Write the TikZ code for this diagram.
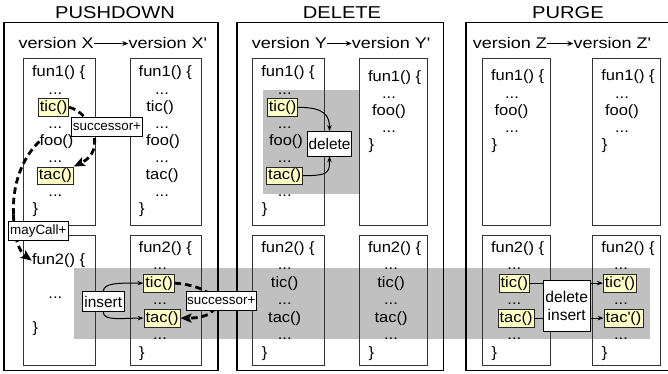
\documentclass[tikz,border=0pt]{standalone}
\usepackage{fontspec}
\setmainfont{Liberation Sans}[FakeStretch=1.17]
\newfontfamily\codefont{Liberation Sans}[FakeStretch=1.1]
\newfontfamily\labelfont{Liberation Sans}
\usetikzlibrary{arrows.meta,calc}
\definecolor{hlyellow}{RGB}{255,255,200}
\definecolor{bandgray}{RGB}{192,192,192}
\newcommand\qs{\textquotesingle}
\begin{document}
\begin{tikzpicture}[x=1pt,y=-1pt,
  panel/.style={draw=black, line width=1.6pt},
  fbox/.style={draw=black!80, line width=0.9pt},
  code/.style={font=\codefont\fontsize{15}{17}\selectfont, inner sep=0pt, anchor=base},
  codel/.style={code, anchor=base west},
  hl/.style={code, fill=hlyellow, draw=black!85, line width=0.8pt, inner xsep=1.5pt, inner ysep=1.8pt},
  title/.style={font=\fontsize{17.2}{20}\selectfont, anchor=base, inner sep=0pt},
  ver/.style={font=\fontsize{15.4}{18}\selectfont, anchor=base west, inner sep=0pt},
  lbl/.style={draw=black, fill=white, line width=0.8pt, inner sep=0pt, align=center},
  small/.style={font=\labelfont\fontsize{13.4}{16}\selectfont},
  mid/.style={font=\labelfont\fontsize{15.4}{18.3}\selectfont},
  dasharrow/.style={line width=2.8pt, dash pattern=on 6.5pt off 4pt, -{Stealth[length=11pt,width=9pt,inset=2pt]}},
  thinarrow/.style={line width=1pt, -{Stealth[length=6pt,width=4.5pt]}},
  verarrow/.style={line width=0.9pt, -{Stealth[length=6pt,width=5pt]}},
]
\useasboundingbox (0,0) rectangle (668,374);

% shaded regions
\fill[bandgray] (74,268.3) rectangle (650,339);
\fill[bandgray] (262.7,90) rectangle (359.3,194);

% panels
\draw[panel] (4,22.7) rectangle (218,370.5);
\draw[panel] (236.7,22.7) rectangle (443.3,370.5);
\draw[panel] (465.7,22.7) rectangle (669.5,370.5);

% titles
\node[title] (tPush) at (115,19) {PUSHDOWN};
\node[title] (tDel) at (342,19) {DELETE};
\node[title] (tPurge) at (568,19) {PURGE};

% version headers
\node[ver] (vX) at (18.3,49) {version X};
\node[ver] (vXp) at (128.3,49) {version X\qs};
\node[ver] (vY) at (251.7,49) {version Y};
\node[ver] (vYp) at (351.7,49) {version Y\qs};
\node[ver] (vZ) at (472.7,49) {version Z};
\node[ver] (vZp) at (573.3,49) {version Z\qs};
\draw[verarrow] (vX.east) -- (vXp.west);
\draw[verarrow] (vY.east) -- (vYp.west);
\draw[verarrow] (vZ.east) -- (vZp.west);

% function boxes
\draw[fbox] (23.3,58.3) rectangle (95,225.7);
\draw[fbox] (130,58.3) rectangle (201.7,225.7);
\draw[fbox] (23.3,235.7) rectangle (95,365);
\draw[fbox] (130,235.7) rectangle (201.7,365);
\draw[fbox] (252.7,58.3) rectangle (324.3,225.7);
\draw[fbox] (359.3,58.3) rectangle (427.3,225.7);
\draw[fbox] (252.7,235.7) rectangle (324.3,365);
\draw[fbox] (359.3,235.7) rectangle (427.3,365);
\draw[fbox] (482.3,58.3) rectangle (550,225.7);
\draw[fbox] (592.7,58.3) rectangle (660.7,225.7);
\draw[fbox] (482.3,235.7) rectangle (550,365);
\draw[fbox] (592.7,235.7) rectangle (660.7,365);

% ---- version X, fun1
\node[codel] (xFun) at (31.8,77) {fun1() \{};
\node[code] (xD1) at (55.3,94.1) {...};
\node[hl] (xTic) at (53.5,111.2) {tic()};
\node[code] (xD2) at (55.3,128.3) {...};
\node[code] (xFoo) at (56.5,145.4) {foo()};
\node[code] (xD3) at (55.3,162.5) {...};
\node[hl] (xTac) at (55.3,179.6) {tac()};
\node[code] (xD4) at (55.3,196.7) {...};
\node[codel] (xEnd) at (32.3,213.8) {\}};
% ---- version X', fun1
\node[codel] (xpFun) at (138.5,77) {fun1() \{};
\node[code] (xpD1) at (162,94.1) {...};
\node[code] (xpTic) at (160,111.2) {tic()};
\node[code] (xpD2) at (162,128.3) {...};
\node[code] (xpFoo) at (163,145.4) {foo()};
\node[code] (xpD3) at (162,162.5) {...};
\node[code] (xpTac) at (162,179.6) {tac()};
\node[code] (xpD4) at (162,196.7) {...};
\node[codel] (xpEnd) at (139,213.8) {\}};
% ---- version X, fun2
\node[codel] (xbFun) at (31.8,264.5) {fun2() \{};
\node[code] (xbD) at (55.3,298) {...};
\node[codel] (xbEnd) at (32.3,332) {\}};
% ---- version X', fun2
\node[codel] (xpbFun) at (138.5,252) {fun2() \{};
\node[code] (xpbD1) at (160,269.5) {...};
\node[hl] (xpbTic) at (159,287) {tic()};
\node[code] (xpbD2) at (160,304.5) {...};
\node[hl] (xpbTac) at (162,322) {tac()};
\node[code] (xpbD3) at (160,339.5) {...};
\node[codel] (xpbEnd) at (139,357) {\}};

% ---- version Y, fun1
\node[codel] (yFun) at (261.2,77) {fun1() \{};
\node[code] (yD1) at (284.7,94.1) {...};
\node[hl] (yTic) at (282.5,111.2) {tic()};
\node[code] (yD2) at (284.7,128.3) {...};
\node[code] (yFoo) at (286,145.4) {foo()};
\node[code] (yD3) at (284.7,162.5) {...};
\node[hl] (yTac) at (284.7,179.6) {tac()};
\node[code] (yD4) at (284.7,196.7) {...};
\node[codel] (yEnd) at (261.7,213.8) {\}};
% ---- version Y', fun1
\node[codel] (ypFun) at (367.8,82) {fun1() \{};
\node[code] (ypD1) at (389,98.6) {...};
\node[code] (ypFoo) at (389,115.4) {foo()};
\node[code] (ypD2) at (389,132.6) {...};
\node[codel] (ypEnd) at (368.3,149.8) {\}};
% ---- version Y, fun2
\node[codel] (ybFun) at (261.2,252) {fun2() \{};
\node[code] (ybD1) at (284.7,269.5) {...};
\node[code] (ybTic) at (284.7,287) {tic()};
\node[code] (ybD2) at (284.7,304.5) {...};
\node[code] (ybTac) at (284.7,322) {tac()};
\node[code] (ybD3) at (284.7,339.5) {...};
\node[codel] (ybEnd) at (261.7,357) {\}};
% ---- version Y', fun2
\node[codel] (ypbFun) at (367.8,252) {fun2() \{};
\node[code] (ypbD1) at (391,269.5) {...};
\node[code] (ypbTic) at (391,287) {tic()};
\node[code] (ypbD2) at (391,304.5) {...};
\node[code] (ypbTac) at (391,322) {tac()};
\node[code] (ypbD3) at (391,339.5) {...};
\node[codel] (ypbEnd) at (368.3,357) {\}};

% ---- version Z, fun1
\node[codel] (zFun) at (490.8,81) {fun1() \{};
\node[code] (zD1) at (512,98.2) {...};
\node[code] (zFoo) at (511.5,115.4) {foo()};
\node[code] (zD2) at (512,132.6) {...};
\node[codel] (zEnd) at (491.3,149.8) {\}};
% ---- version Z', fun1
\node[codel] (zpFun) at (601.2,81) {fun1() \{};
\node[code] (zpD1) at (622,98.2) {...};
\node[code] (zpFoo) at (622,115.4) {foo()};
\node[code] (zpD2) at (622,132.6) {...};
\node[codel] (zpEnd) at (601.7,149.8) {\}};
% ---- version Z, fun2
\node[codel] (zbFun) at (490.8,252) {fun2() \{};
\node[code] (zbD1) at (514.3,269.5) {...};
\node[hl] (zbTic) at (514.3,287) {tic()};
\node[code] (zbD2) at (514.3,304.5) {...};
\node[hl] (zbTac) at (516,322) {tac()};
\node[code] (zbD3) at (514.3,339.5) {...};
\node[codel] (zbEnd) at (491.3,357) {\}};
% ---- version Z', fun2
\node[codel] (zpbFun) at (601.2,252) {fun2() \{};
\node[code] (zpbD1) at (621,269.5) {...};
\node[hl] (zpbTic) at (620,287) {tic\qs()};
\node[code] (zpbD2) at (621,304.5) {...};
\node[hl] (zpbTac) at (623.5,322) {tac\qs()};
\node[code] (zpbD3) at (621,339.5) {...};
\node[codel] (zpbEnd) at (601.7,357) {\}};

% ---- connectors
\coordinate (mcPt) at (13.5,215);
\draw[dasharrow] (xTic.east) .. controls (90,112) and (108,150) .. (xTac.north east);
\draw[line width=2.8pt, dash pattern=on 6.5pt off 4pt] (xFoo.west) .. controls (22,158) and (12,185) .. (mcPt);
\draw[dasharrow] (mcPt) .. controls (14,240) and (20,252) .. (xbFun.west);
\draw[dasharrow] (xpbTic.east) .. controls (225,287) and (228,318) .. (xpbTac.east);

\node[lbl, small, minimum width=71.7pt, minimum height=19.4pt] (succA) at (107,127) {successor+};
\node[lbl, small, minimum width=60pt, minimum height=18.3pt] (mayCall) at (38.3,231) {mayCall+};
\node[lbl, mid, minimum width=41.3pt, minimum height=20pt] (ins) at (103.3,301.7) {insert};
\node[lbl, small, minimum width=70.7pt, minimum height=18.3pt] (succB) at (221.3,301) {successor+};
\node[lbl, mid, minimum width=44.4pt, minimum height=24.3pt] (del) at (329.5,143.8) {delete};

\draw[thinarrow] (ins.north) .. controls +(0,-9) and +(-22,0) .. (xpbTic.west);
\draw[thinarrow] (ins.south) .. controls +(0,9) and +(-22,0) .. (xpbTac.west);
\draw[thinarrow] (yTic.east) .. controls +(26,0) and +(0,-16) .. (del.north);
\draw[thinarrow] (yTac.east) .. controls +(26,0) and +(0,16) .. (del.south);

\draw[thinarrow] (zbTic.east) -- (zpbTic.west);
\draw[thinarrow] (zbTac.east) -- (zpbTac.west);
\node[lbl, mid, font=\labelfont\fontsize{15.6}{18.3}\selectfont, minimum width=46.7pt, minimum height=51pt] (delins) at (566.7,306.2) {delete\\insert};
\end{tikzpicture}
\end{document}
